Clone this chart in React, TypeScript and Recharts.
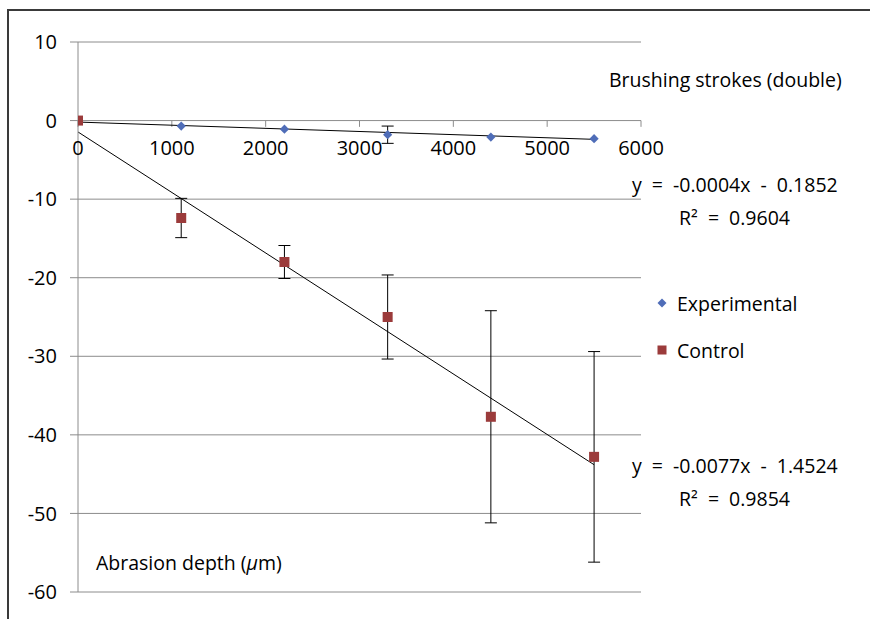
import React from 'react';
import {
  ScatterChart,
  Scatter,
  XAxis,
  YAxis,
  CartesianGrid,
  ErrorBar,
  ReferenceLine,
  ReferenceDot,
  Legend,
} from 'recharts';

const strokes = [0, 1100, 2200, 3300, 4400, 5500];
const experimental = [0, -0.7, -1.1, -1.8, -2.1, -2.3];
const experimentalErr = [0, 0, 0, 1.1, 0, 0];
const control = [0, -12.4, -18.0, -25.0, -37.7, -42.8];
const controlErr = [0, 2.5, 2.1, 5.35, 13.5, 13.4];
const xTicks = [0, 1000, 2000, 3000, 4000, 5000, 6000];
const yTicks = [-60, -50, -40, -30, -20, -10, 0, 10];
const trendX = [0, 5500];
const trendExperimental = [-0.19, -2.39];
const trendControl = [-1.45, -43.8];
const seriesOrder = ['Experimental', 'Control'];

const BLUE = '#4F6DB8';
const RED = '#9B3B3B';
const GRID = '#8C8C8C';
const FONT = '"Open Sans", "Noto Sans", sans-serif';

const expData = strokes.map((x, i) => ({ x, y: experimental[i], err: experimentalErr[i] }));
const ctrlData = strokes.map((x, i) => ({ x, y: control[i], err: controlErr[i] }));

const DiamondShape = (p: any) => {
  const { cx, cy } = p;
  const r = 4.6;
  return (
    <polygon
      points={`${cx},${cy - r} ${cx + r},${cy} ${cx},${cy + r} ${cx - r},${cy}`}
      fill={BLUE}
    />
  );
};

const SquareShape = (p: any) => {
  const { cx, cy } = p;
  return <rect x={cx - 5} y={cy - 5} width={10} height={10} fill={RED} />;
};

const LegendContent = (props: any) => {
  const payload = [...(props.payload || [])].sort(
    (a: any, b: any) => seriesOrder.indexOf(a.value) - seriesOrder.indexOf(b.value)
  );
  return (
    <div style={{ fontFamily: FONT, fontSize: 19.5, color: '#000' }}>
      {payload.map((e: any, i: number) => (
        <div
          key={i}
          style={{ display: 'flex', alignItems: 'center', height: 26, marginBottom: 21 }}
        >
          <svg width={14} height={14} style={{ marginRight: 8 }}>
            {e.type === 'diamond' ? (
              <polygon points="7,2.5 11.5,7 7,11.5 2.5,7" fill={e.color} />
            ) : (
              <rect x={2.5} y={2.5} width={9} height={9} fill={e.color} />
            )}
          </svg>
          <span>{e.value}</span>
        </div>
      ))}
    </div>
  );
};

const textStyle: React.CSSProperties = {
  position: 'absolute',
  fontFamily: FONT,
  fontSize: 19.5,
  lineHeight: '20px',
  color: '#000',
  whiteSpace: 'pre',
};

const eqStyle: React.CSSProperties = { ...textStyle, wordSpacing: 5 };

export default function App() {
  return (
    <div style={{ position: 'absolute', left: 0, top: 0, width: 870, height: 619, background: '#fff' }}>
      <div
        style={{
          position: 'absolute',
          left: 7,
          top: 9,
          width: 863,
          height: 610,
          borderTop: '2px solid #3a3a3a',
          borderLeft: '2px solid #3a3a3a',
          boxSizing: 'border-box',
        }}
      />
      <ScatterChart
        width={870}
        height={619}
        margin={{ top: 42, right: 229, bottom: 27, left: 0 }}
        style={{ position: 'absolute', left: 0, top: 0 }}
      >
        <CartesianGrid vertical={false} stroke={GRID} strokeDasharray="" />
        <XAxis type="number" dataKey="x" domain={[0, 6000]} ticks={xTicks} hide allowDataOverflow />
        <YAxis
          type="number"
          dataKey="y"
          domain={[-60, 10]}
          ticks={yTicks}
          allowDataOverflow
          width={78}
          axisLine={{ stroke: GRID }}
          tickLine={{ stroke: GRID }}
          tickSize={8}
          tickMargin={13}
          tick={{ fill: '#000', fontSize: 20, fontFamily: FONT }}
        />
        {xTicks.map((t) => (
          <ReferenceLine
            key={'tl' + t}
            segment={[
              { x: t, y: 0 },
              { x: t, y: -0.8 },
            ]}
            stroke={GRID}
          />
        ))}
        {xTicks.map((t) => (
          <ReferenceDot
            key={'tx' + t}
            x={t}
            y={0}
            r={0}
            fill="none"
            stroke="none"
            label={{ value: String(t), position: 'bottom', offset: 20, fill: '#000', fontSize: 20, fontFamily: FONT }}
          />
        ))}
        <ReferenceLine
          segment={[
            { x: trendX[0], y: trendControl[0] },
            { x: trendX[1], y: trendControl[1] },
          ]}
          stroke="#000"
          strokeWidth={1}
        />
        <ReferenceLine
          segment={[
            { x: trendX[0], y: trendExperimental[0] },
            { x: trendX[1], y: trendExperimental[1] },
          ]}
          stroke="#000"
          strokeWidth={1}
        />
        <Scatter
          name="Experimental"
          data={expData}
          fill={BLUE}
          legendType="diamond"
          shape={DiamondShape}
          isAnimationActive={false}
        >
          <ErrorBar dataKey="err" direction="y" width={6} stroke="#000" strokeWidth={1} />
        </Scatter>
        <Scatter
          name="Control"
          data={ctrlData}
          fill={RED}
          legendType="square"
          shape={SquareShape}
          isAnimationActive={false}
        >
          <ErrorBar dataKey="err" direction="y" width={6} stroke="#000" strokeWidth={1} />
        </Scatter>
        <Legend
          layout="vertical"
          align="center"
          verticalAlign="middle"
          wrapperStyle={{ left: 655, top: 290, width: 200 }}
          content={LegendContent}
        />
      </ScatterChart>
      <div style={{ ...textStyle, left: 609, top: 70 }}>Brushing strokes (double)</div>
      <div style={{ ...eqStyle, left: 632, top: 175 }}>y = -0.0004x - 0.1852</div>
      <div style={{ ...eqStyle, left: 679, top: 208 }}>R² = 0.9604</div>
      <div style={{ ...eqStyle, left: 632, top: 456 }}>y = -0.0077x - 1.4524</div>
      <div style={{ ...eqStyle, left: 679, top: 489 }}>R² = 0.9854</div>
      <div style={{ ...textStyle, left: 96, top: 553 }}>
        Abrasion depth (<i>μ</i>m)
      </div>
    </div>
  );
}
